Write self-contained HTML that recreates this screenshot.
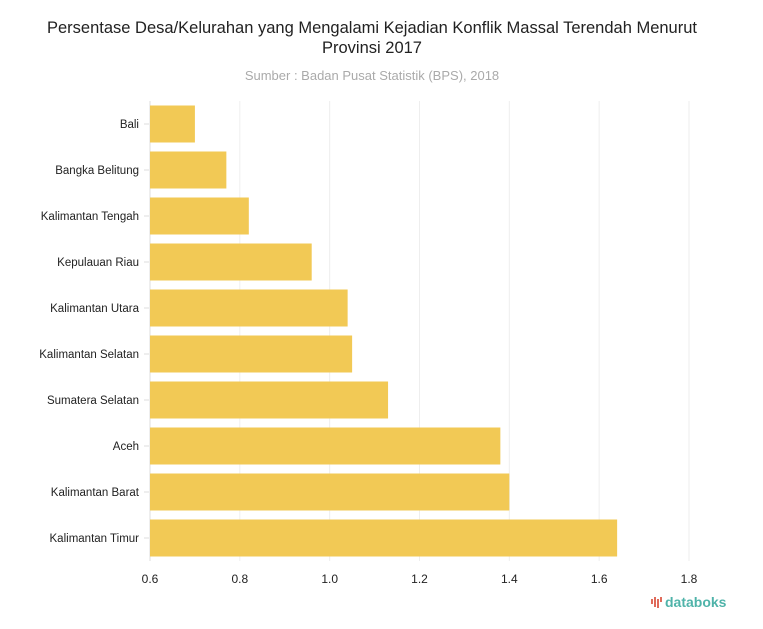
<!DOCTYPE html>
<html><head><meta charset="utf-8"><style>
body{margin:0;background:#fff;width:763px;height:624px;overflow:hidden;font-family:"Liberation Sans",sans-serif}
</style></head><body>
<svg width="763" height="624" xmlns="http://www.w3.org/2000/svg">
<text x="372" y="33" text-anchor="middle" font-size="16.5" fill="#222">Persentase Desa/Kelurahan yang Mengalami Kejadian Konflik Massal Terendah Menurut</text>
<text x="372" y="53" text-anchor="middle" font-size="16.5" fill="#222">Provinsi 2017</text>
<text x="372" y="80" text-anchor="middle" font-size="13" fill="#aaa">Sumber : Badan Pusat Statistik (BPS), 2018</text>
<g id="grid"></g><g id="bars"></g><g id="axes"></g>
<g>
<rect x="651" y="599" width="2" height="5" fill="#e06b5b"/><rect x="654" y="597" width="2" height="10" fill="#e06b5b"/><rect x="657" y="599" width="2" height="9" fill="#e06b5b"/><rect x="660" y="597" width="2" height="5" fill="#e06b5b"/>
<text x="665" y="607" font-size="14" font-weight="bold" fill="#4fb3a9">databoks</text>
</g>
</svg>
<script>
const categories=["Bali","Bangka Belitung","Kalimantan Tengah","Kepulauan Riau","Kalimantan Utara","Kalimantan Selatan","Sumatera Selatan","Aceh","Kalimantan Barat","Kalimantan Timur"];
const values=[0.70,0.77,0.82,0.96,1.04,1.05,1.13,1.38,1.40,1.64];
const ticks=[0.6,0.8,1.0,1.2,1.4,1.6,1.8];
const tickLabels=["0.6","0.8","1.0","1.2","1.4","1.6","1.8"];
const NS="http://www.w3.org/2000/svg";
const x0=150,x1=689,plotTop=101,band=46;
const xs=v=>x0+(v-0.6)/(1.8-0.6)*(x1-x0);
const ys=i=>plotTop+i*band;
function mk(t,a,p){const e=document.createElementNS(NS,t);for(const k in a)e.setAttribute(k,a[k]);p.appendChild(e);return e;}
const g=document.getElementById('grid'),b=document.getElementById('bars'),ax=document.getElementById('axes');
ticks.forEach((t,i)=>{
 const l=mk('line',{x1:xs(t),x2:xs(t),y1:plotTop,y2:plotTop+band*categories.length,stroke:i==0?'#ddd':'#eee','stroke-width':1},g);
 
 
 const tx=mk('text',{x:xs(t),y:583,'text-anchor':'middle','font-size':12,fill:'#222'},ax);
 tx.textContent=tickLabels[i];
 
 
});
categories.forEach((c,i)=>{
 const r=mk('rect',{x:x0,y:ys(i)+4.5,width:xs(values[i])-x0,height:37,fill:'#f2c955'},b);
 
 
 const tk=mk('line',{x1:144,x2:149,y1:ys(i)+band/2,y2:ys(i)+band/2,stroke:'#ddd'},ax);
 
 
 const tx=mk('text',{x:139,y:ys(i)+band/2+4,'text-anchor':'end','font-size':11.5,fill:'#222'},ax);
 tx.textContent=c;
 
 
});
</script>
</body></html>
